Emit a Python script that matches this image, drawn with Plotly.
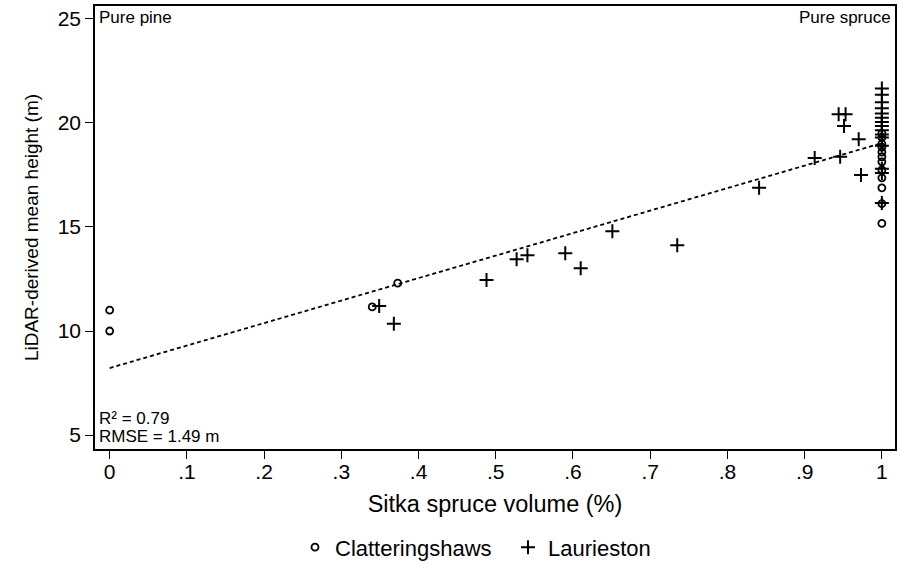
import plotly.graph_objects as go

# Clatteringshaws (circles)
clat_x = [0, 0, 0.34, 0.373, 1, 1, 1, 1, 1, 1, 1, 1, 1, 1, 1, 1]
clat_y = [11.0, 10.0, 11.16, 12.3, 19.5, 19.3, 18.84, 18.6, 18.37, 18.13, 17.74, 17.36, 16.88, 16.12, 15.17, 19.0]

# Laurieston (plus)
laur_x = [0.349, 0.368, 0.488, 0.527, 0.541, 0.590, 0.610, 0.651, 0.735, 0.841,
          0.913, 0.946, 0.944, 0.953, 0.951, 0.970, 0.973,
          1, 1, 1, 1, 1, 1, 1, 1, 1, 1, 1, 1, 1, 1, 1]
laur_y = [11.2, 10.35, 12.45, 13.45, 13.64, 13.74, 13.02, 14.79, 14.12, 16.89,
          18.32, 18.37, 20.42, 20.42, 19.85, 19.22, 17.5,
          21.65, 21.35, 21.0, 20.7, 20.45, 20.25, 20.05, 19.85, 19.65, 19.45, 19.3, 18.9, 17.8, 17.6, 16.15]

# Linear fit endpoints
fit_x = [0, 1]
fit_y = [8.22, 19.03]

x_tickvals = [0, 0.1, 0.2, 0.3, 0.4, 0.5, 0.6, 0.7, 0.8, 0.9, 1]
x_ticktext = ["0", ".1", ".2", ".3", ".4", ".5", ".6", ".7", ".8", ".9", "1"]
y_tickvals = [5, 10, 15, 20, 25]

FONT = "Liberation Sans, Arial, sans-serif"
XRANGE = [-0.019, 1.017]

fig = go.Figure()
fig.add_trace(go.Scatter(x=fit_x, y=fit_y, mode="lines", showlegend=False,
                         xaxis="x2", yaxis="y",
                         line=dict(color="black", width=1.8, dash="4px,3px")))
fig.add_trace(go.Scatter(x=clat_x, y=clat_y, mode="markers", name="Clatteringshaws",
                         marker=dict(symbol="circle-open", size=7, color="black",
                                     line=dict(width=1.8, color="black"))))
fig.add_trace(go.Scatter(x=laur_x, y=laur_y, mode="markers", name="Laurieston",
                         marker=dict(symbol="cross-thin-open", size=10, color="black",
                                     line=dict(width=2, color="black"))))

fig.update_layout(
    width=901, height=572,
    margin=dict(l=95, r=4, t=5, b=121),
    paper_bgcolor="white", plot_bgcolor="white",
    font=dict(family=FONT, color="black", size=20),
    showlegend=True,
    legend=dict(orientation="h", x=0.25, xanchor="left", y=-0.222, yanchor="middle",
                font=dict(size=22, family=FONT), itemwidth=30, tracegroupgap=0,
                entrywidth=168),
    xaxis=dict(range=XRANGE, tickvals=x_tickvals, ticktext=x_ticktext,
               showgrid=False, zeroline=False, showline=True, linecolor="black",
               linewidth=1.5, mirror=True, ticks="outside", ticklen=3, tickwidth=1,
               tickcolor="rgba(0,0,0,0)", tickfont=dict(size=21),
               title=dict(text="Sitka spruce volume (%)", font=dict(size=23.5), standoff=14)),
    xaxis2=dict(range=XRANGE, tickvals=x_tickvals, overlaying="x", anchor="y", side="bottom",
                showgrid=False, zeroline=False, showline=False, showticklabels=False,
                ticks="outside", ticklen=9, tickwidth=1, tickcolor="black"),
    yaxis=dict(range=[4.33, 25.62], tickvals=y_tickvals,
               showgrid=False, zeroline=False, showline=True, linecolor="black",
               linewidth=1.5, mirror=True, ticks="outside", ticklen=8, tickwidth=1,
               tickcolor="black", tickfont=dict(size=21),
               title=dict(text="LiDAR-derived mean height (m)", font=dict(size=19), standoff=14)),
    annotations=[
        dict(text="Pure pine", xref="paper", yref="paper", x=0.003, y=0.975,
             xanchor="left", yanchor="middle", showarrow=False, font=dict(size=17)),
        dict(text="Pure spruce", xref="paper", yref="paper", x=0.997, y=0.975,
             xanchor="right", yanchor="middle", showarrow=False, font=dict(size=17)),
        dict(text="R² = 0.79", xref="paper", yref="paper", x=0.003, y=0.0695,
             xanchor="left", yanchor="middle", showarrow=False, font=dict(size=17)),
        dict(text="RMSE = 1.49 m", xref="paper", yref="paper", x=0.003, y=0.029,
             xanchor="left", yanchor="middle", showarrow=False, font=dict(size=17)),
    ],
)

fig.write_html("out.html")
